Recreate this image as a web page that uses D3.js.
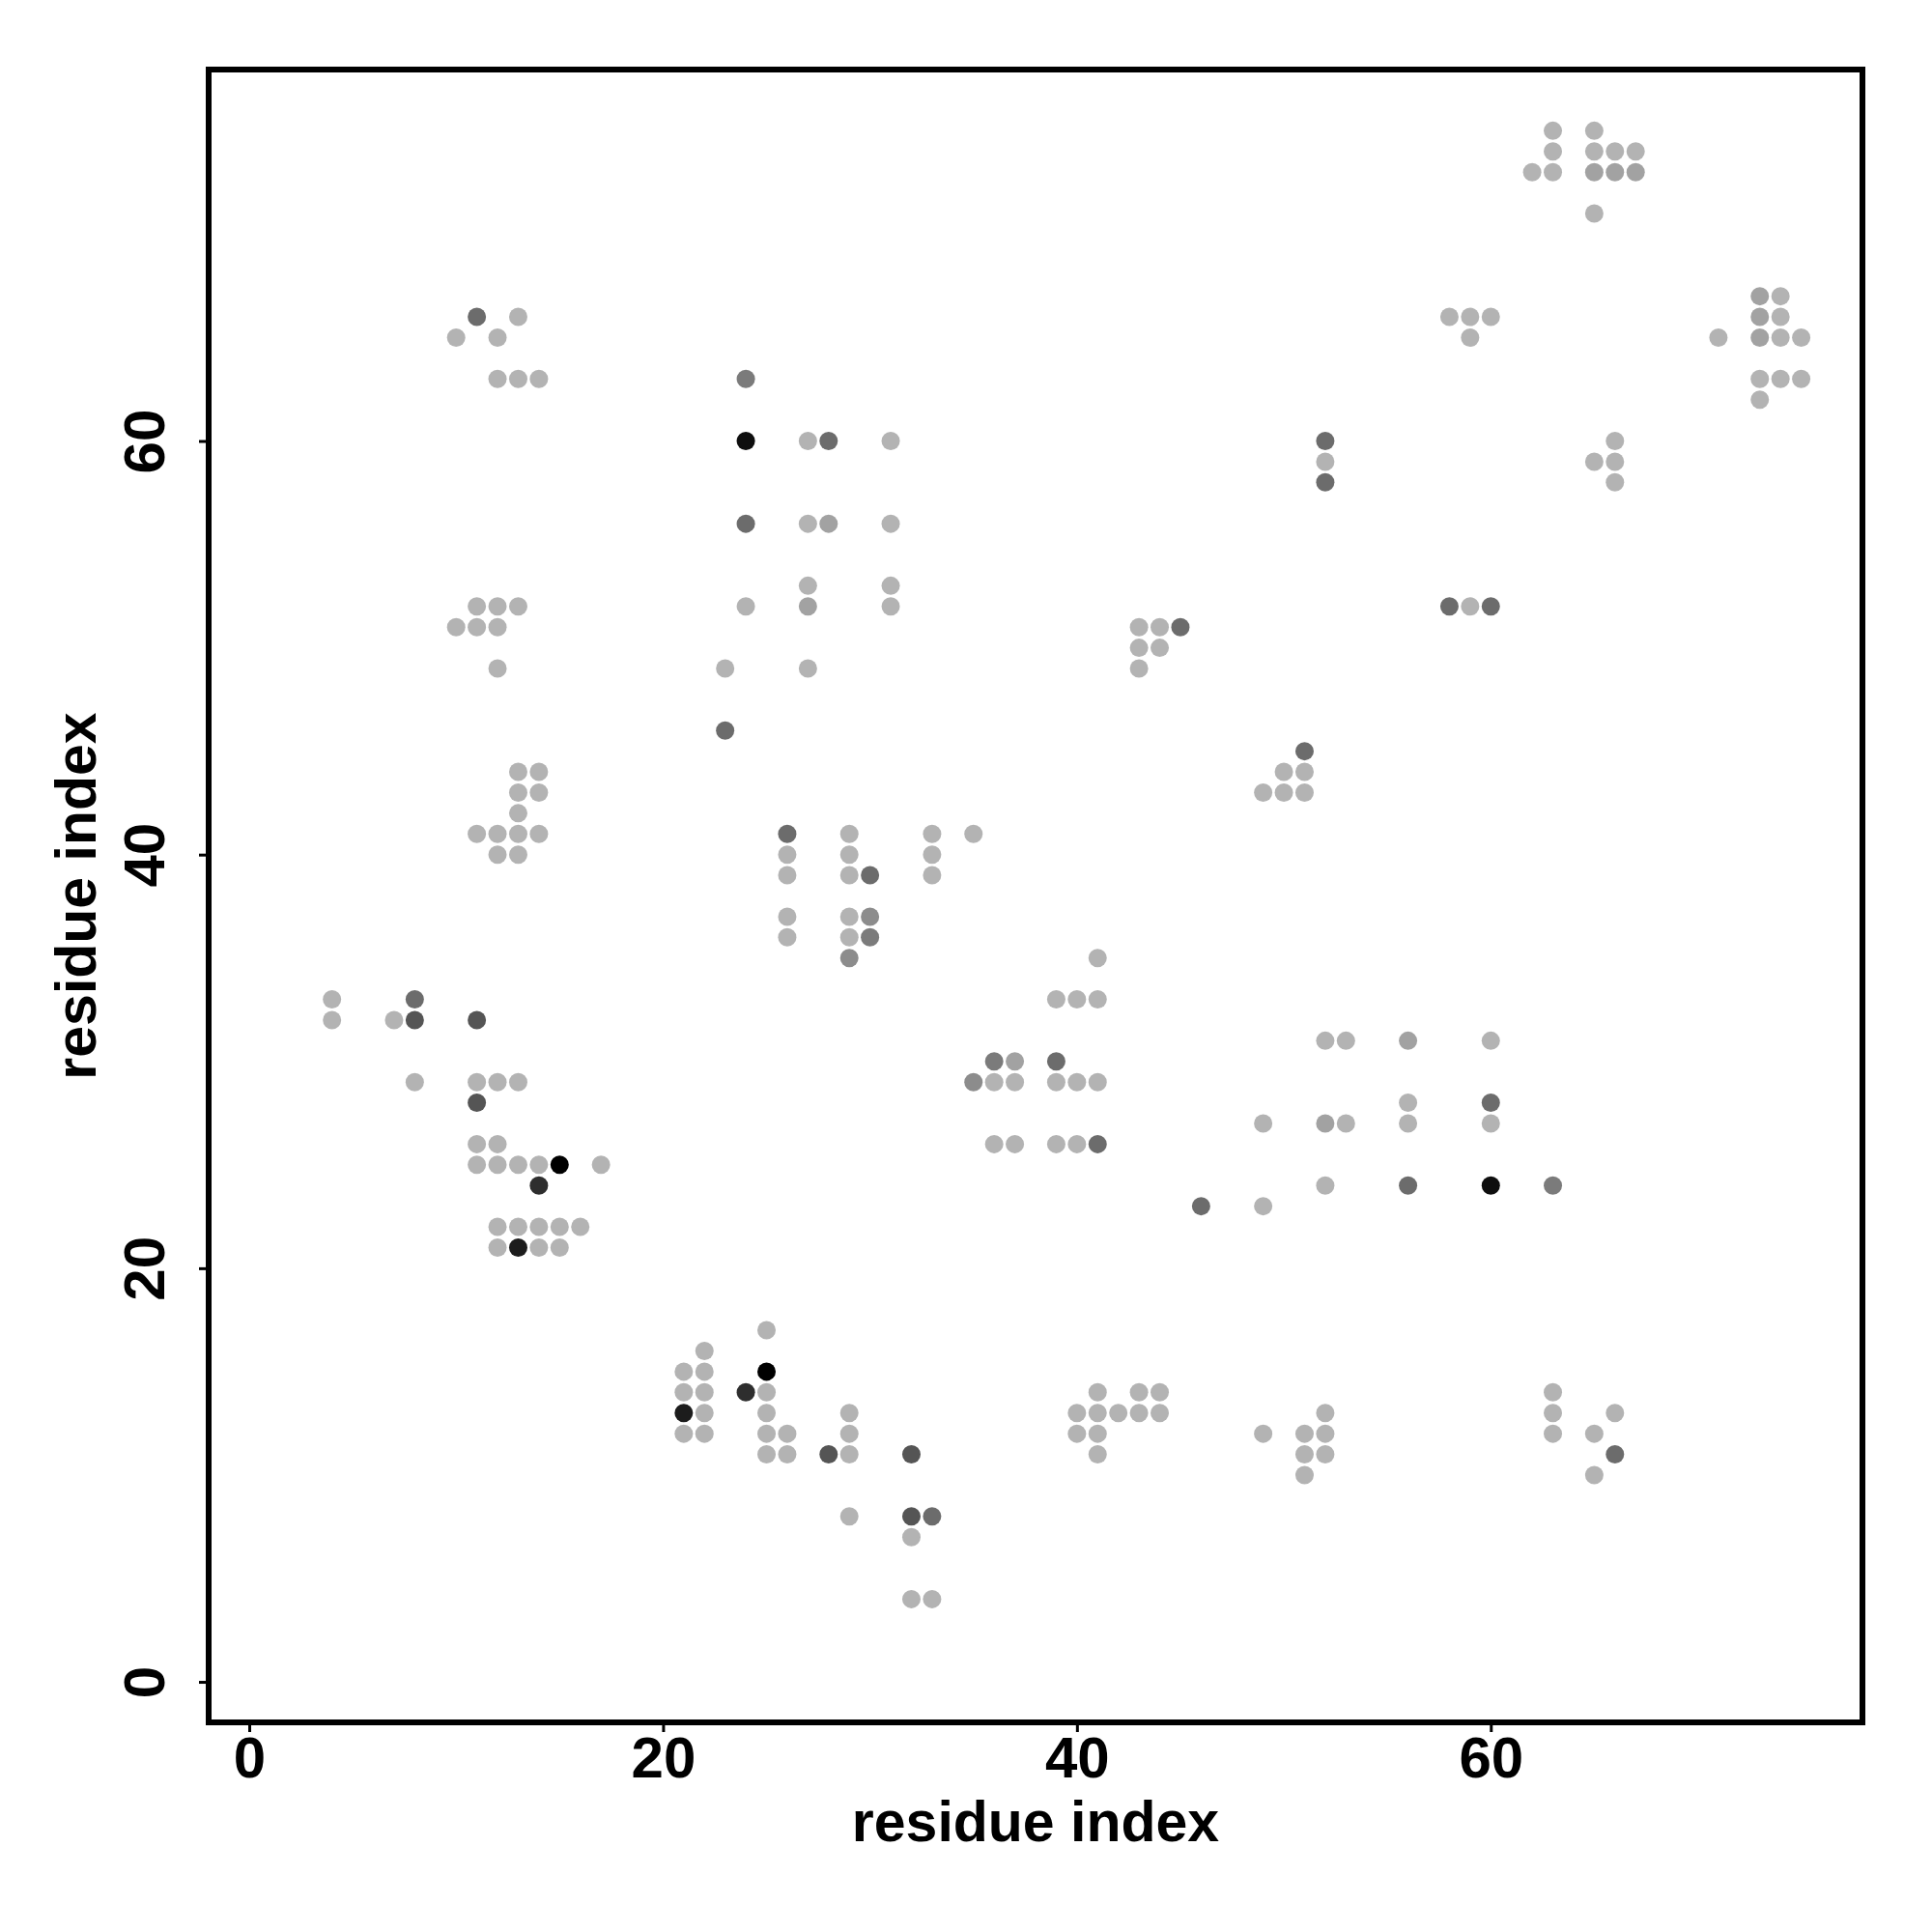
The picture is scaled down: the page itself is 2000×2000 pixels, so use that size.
<!DOCTYPE html>
<html>
<head>
<meta charset="utf-8">
<script src="https://cdn.jsdelivr.net/npm/d3@7"></script>
<style>
  html, body { margin: 0; padding: 0; background: #ffffff; }
  svg { display: block; }
  text { font-family: "Liberation Sans", Arial, Helvetica, sans-serif; font-weight: bold; fill: #000; }
</style>
</head>
<body>
<svg id="chart" width="2000" height="2000"></svg>
<script>
// ---- data: contact map (residue i, residue j, contact strength level) ----
const contactI = [
  11,13,10,12,12,13,14,
  11,12,13,10,11,12,12,
  13,14,13,14,13,11,12,13,14,12,13,
  4,4,7,8,8,11,8,11,12,13,11,
  11,12,11,12,13,14,15,17,14,
  12,13,14,15,16,12,13,14,15,
  22,21,22,21,22,21,22,21,22,
  24,25,25,25,25,25,26,25,26,
  28,29,29,29,29,32,32,33,32,32,33,
  24,24,24,24,23,23,
  27,28,31,27,28,31,27,31,27,31,27,
  26,26,26,26,26,
  29,29,29,30,29,30,29,30,29,
  33,33,33,35,
  43,44,45,43,44,43,
  51,50,51,49,50,51,
  41,39,40,41,
  36,37,39,35,36,37,39,40,41,
  36,37,39,40,41,
  46,49,49,
  52,53,56,60,56,60,52,53,56,60,
  52,56,60,63,
  41,43,44,40,41,42,43,44,40,41,41,
  49,52,51,52,51,52,51,
  63,63,66,63,65,66,65,
  63,65,63,65,66,67,62,63,65,66,67,65,
  73,74,73,74,71,73,74,75,73,74,75,73,
  58,59,60,59,
  52,52,52,66,65,66,66,
  58,59,60
];
const contactJ = [
  66,66,65,65,63,63,63,
  52,52,52,51,51,51,49,
  44,44,43,43,42,41,41,41,41,40,40,
  33,32,32,33,32,32,29,29,29,29,28,
  26,26,25,25,25,25,25,25,24,
  22,22,22,22,22,21,21,21,21,
  16,15,15,14,14,13,13,12,12,
  14,17,15,14,13,12,12,11,11,
  11,13,12,11,8,11,8,8,7,4,4,
  63,60,56,52,49,46,
  60,60,60,56,56,56,53,53,52,52,49,
  41,40,39,37,36,
  41,40,39,39,37,37,36,36,35,
  41,40,39,41,
  51,51,51,50,50,49,
  45,44,44,43,43,43,
  35,33,33,33,
  30,30,30,29,29,29,29,29,29,
  26,26,26,26,26,
  23,23,27,
  31,31,31,31,28,28,27,27,27,27,
  24,24,24,24,
  14,14,14,13,13,13,13,13,12,12,11,
  12,13,12,12,11,11,10,
  14,13,13,12,12,11,10,
  75,75,74,74,74,74,73,73,73,73,73,71,
  67,67,66,66,65,65,65,65,63,63,63,62,
  66,66,66,65,
  60,59,58,60,59,59,58,
  52,52,52
];
const contactLevel = [
  5,1,1,1,1,1,1,
  1,1,1,1,1,1,1,
  1,1,1,1,1,1,1,1,1,1,1,
  1,1,1,5,6,6,1,1,1,1,6,
  1,1,1,1,1,1,10,1,7,
  1,1,1,1,1,1,8,1,1,
  1,1,1,1,1,8,1,1,1,
  7,1,10,1,1,1,1,1,1,
  6,1,1,1,1,6,6,5,1,1,1,
  4,9,5,1,1,5,
  1,5,1,1,2,1,1,1,2,1,1,
  5,1,1,1,1,
  1,1,1,5,1,3,1,4,3,
  1,1,1,1,
  1,1,5,1,1,1,
  5,1,1,1,1,1,
  1,1,1,1,
  4,2,5,3,1,1,1,1,1,
  1,1,1,1,5,
  5,1,1,
  1,1,2,1,1,5,2,1,1,1,
  1,5,9,4,
  1,1,1,1,1,1,1,1,1,1,1,
  1,1,1,1,1,1,1,
  1,1,1,1,1,5,1,
  1,1,1,1,1,1,1,1,2,2,2,1,
  2,1,2,1,1,2,1,1,1,1,1,1,
  1,1,1,1,
  5,1,5,1,1,1,1,
  5,1,5
];
const xTickValues = [0, 20, 40, 60];
const yTickValues = [0, 20, 40, 60];
const xAxisTitle = "residue index";
const yAxisTitle = "residue index";

// ---- layout ----
const svg = d3.select("#chart");
const plot = { left: 216, right: 1928, top: 72, bottom: 1783 };

const x = d3.scaleLinear().domain([-1.96, 77.96]).range([plot.left, plot.right]);
const y = d3.scaleLinear().domain([-1.96, 77.96]).range([plot.bottom, plot.top]);
const shade = d3.scaleOrdinal()
  .domain([1, 2, 3, 4, 5, 6, 7, 8, 9, 10])
  .range(["#b3b3b3", "#a2a2a2", "#8c8c8c", "#7b7b7b", "#6c6c6c",
          "#555555", "#2e2e2e", "#1c1c1c", "#0e0e0e", "#000000"]);

const points = contactI.map((d, k) => ({ i: d, j: contactJ[k], lvl: contactLevel[k] }));

// points
svg.append("g")
  .selectAll("circle")
  .data(points)
  .join("circle")
  .attr("cx", d => x(d.i))
  .attr("cy", d => y(d.j))
  .attr("r", 9.5)
  .attr("fill", d => shade(d.lvl));

// x axis
const gx = svg.append("g")
  .attr("transform", `translate(0,${plot.bottom})`)
  .call(d3.axisBottom(x).tickValues(xTickValues).tickSize(10).tickPadding(4).tickFormat(d3.format("d")));
gx.select(".domain").remove();
gx.selectAll(".tick line").attr("stroke", "#000").attr("stroke-width", 3);
gx.selectAll(".tick text").attr("font-size", 60).attr("font-family", null).attr("fill", "#000");

// y axis
const gy = svg.append("g")
  .attr("transform", `translate(${plot.left},0)`)
  .call(d3.axisLeft(y).tickValues(yTickValues).tickSize(10).tickFormat(d3.format("d")));
gy.select(".domain").remove();
gy.selectAll(".tick line").attr("stroke", "#000").attr("stroke-width", 3);
gy.selectAll(".tick text")
  .attr("font-size", 60)
  .attr("font-family", null)
  .attr("fill", "#000")
  .attr("x", null).attr("dy", null)
  .attr("text-anchor", "middle")
  .attr("transform", "translate(-46,0) rotate(-90)");

// frame
svg.append("rect")
  .attr("x", plot.left).attr("y", plot.top)
  .attr("width", plot.right - plot.left).attr("height", plot.bottom - plot.top)
  .attr("fill", "none").attr("stroke", "#000").attr("stroke-width", 6);

// axis titles
svg.append("text")
  .attr("x", (plot.left + plot.right) / 2)
  .attr("y", 1906)
  .attr("text-anchor", "middle")
  .attr("font-size", 59)
  .text(xAxisTitle);

svg.append("text")
  .attr("transform", `translate(99,${(plot.top + plot.bottom) / 2}) rotate(-90)`)
  .attr("text-anchor", "middle")
  .attr("font-size", 59)
  .text(yAxisTitle);
</script>
</body>
</html>
